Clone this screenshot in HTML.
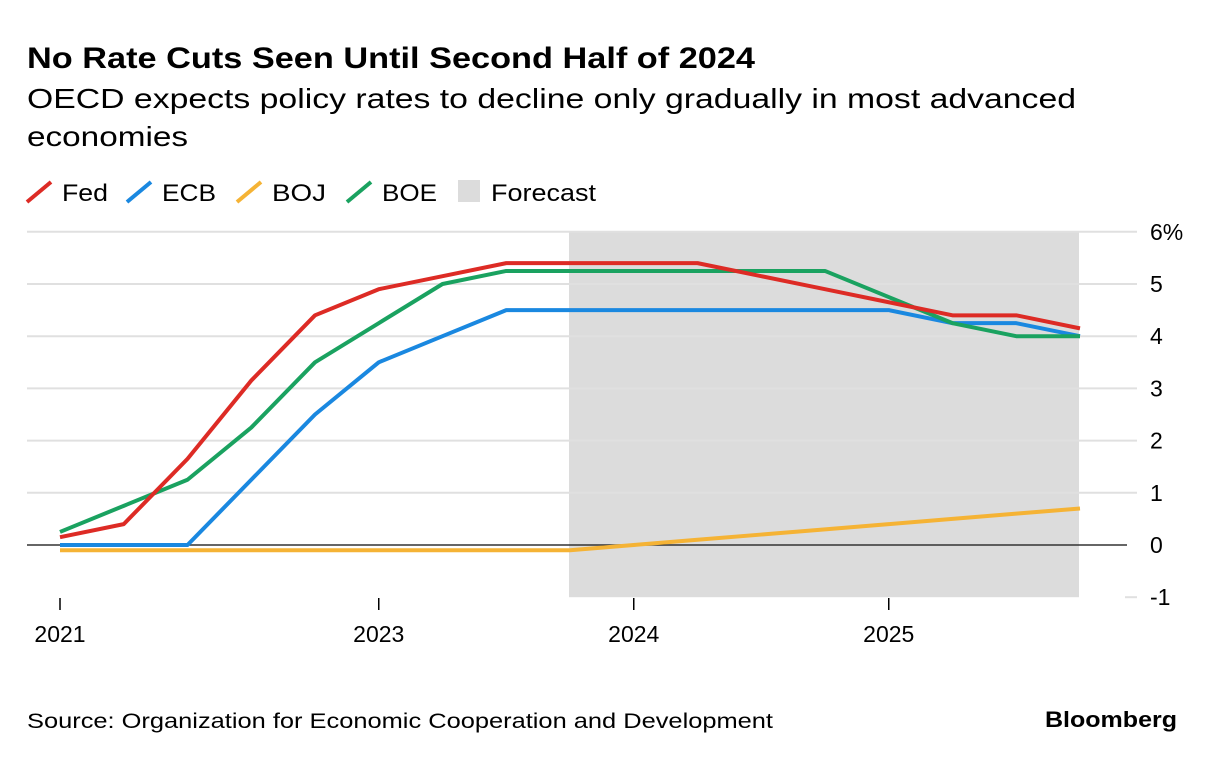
<!DOCTYPE html>
<html><head><meta charset="utf-8"><style>
body{margin:0;background:#fff;font-family:"Liberation Sans",sans-serif;}
</style></head><body>
<svg width="1213" height="760" xmlns="http://www.w3.org/2000/svg" font-family="Liberation Sans, sans-serif">
<text x="27" y="68" font-size="30" font-weight="bold" fill="#000" textLength="728" lengthAdjust="spacingAndGlyphs">No Rate Cuts Seen Until Second Half of 2024</text>
<text x="27" y="108" font-size="28" fill="#000" textLength="1049" lengthAdjust="spacingAndGlyphs">OECD expects policy rates to decline only gradually in most advanced</text>
<text x="27" y="146" font-size="28" fill="#000" textLength="161" lengthAdjust="spacingAndGlyphs">economies</text>
<g id="legend"></g>
<g id="plot"></g>
<text x="27" y="728" font-size="21" fill="#000" textLength="746" lengthAdjust="spacingAndGlyphs">Source: Organization for Economic Cooperation and Development</text>
<text x="1045" y="727" font-size="22" font-weight="bold" fill="#000" textLength="132" lengthAdjust="spacingAndGlyphs">Bloomberg</text>
</svg>
<script>
const fed=[0.15,0.4,1.65,3.15,4.4,4.9,5.15,5.4,5.4,5.4,5.4,5.15,4.9,4.65,4.4,4.4,4.15];
const ecb=[0,0,0,1.25,2.5,3.5,4.0,4.5,4.5,4.5,4.5,4.5,4.5,4.5,4.25,4.25,4.0];
const boj=[-0.1,-0.1,-0.1,-0.1,-0.1,-0.1,-0.1,-0.1,-0.1,0,0.1,0.2,0.3,0.4,0.5,0.6,0.7];
const boe=[0.25,0.75,1.25,2.25,3.5,4.25,5.0,5.25,5.25,5.25,5.25,5.25,5.25,4.75,4.25,4.0,4.0];
const yTicks=[-1,0,1,2,3,4,5,6];
const xTickIdx=[0,5,9,13];
const xTickLabels=["2021","2023","2024","2025"];
const forecastStart=8, forecastEnd=16;
const NS="http://www.w3.org/2000/svg";
const x=i=>60+i*63.75;
const y=v=>545-v*52.2;
const plot=document.getElementById('plot');
function mk(tag,attrs,parent){const e=document.createElementNS(NS,tag);for(const k in attrs)e.setAttribute(k,attrs[k]);(parent||plot).appendChild(e);return e;}
let r=mk('rect',{x:x(forecastStart)-1,y:y(6),width:x(forecastEnd)-x(forecastStart),height:y(-1)-y(6),fill:'#dcdcdc'});


yTicks.forEach(v=>{
  if(v!==0){let g=mk('line',{x1:v===-1?1125:27,x2:1137,y1:y(v),y2:y(v),stroke:'#e0e0e0','stroke-width':2});
  
  }
  let t=mk('text',{x:1150,y:y(v)+8,'font-size':23,fill:'#000'});
  t.textContent=v===6?'6%':String(v);
  
  
});
xTickIdx.forEach((i,k)=>{
  let l=mk('line',{x1:x(i),x2:x(i),y1:598,y2:610,stroke:'#000','stroke-width':1.5});
  
  
  let t=mk('text',{x:x(i),y:642,'font-size':23,'text-anchor':'middle',fill:'#000'});
  t.textContent=xTickLabels[k];
  
  
});
const series=[['boj',boj,'#f5b335'],['ecb',ecb,'#1a88e0'],['boe',boe,'#1aa260'],['fed',fed,'#dd2b25']];
let z=mk('line',{x1:27,x2:1127,y1:y(0),y2:y(0),stroke:'#333','stroke-width':1.5});


series.forEach(([n,d,c])=>{
  let p=mk('polyline',{points:d.map((v,i)=>x(i)+','+y(v)).join(' '),fill:'none',stroke:c,'stroke-width':4,'stroke-linejoin':'round'});
  
  
});
const leg=document.getElementById('legend');
const items=[['Fed','#dd2b25',27,46],['ECB','#1a88e0',127,54],['BOJ','#f5b335',237,54],['BOE','#1aa260',347,55]];
items.forEach(([n,c,lx,w])=>{
  mk('line',{x1:lx,y1:202,x2:lx+24,y2:182,stroke:c,'stroke-width':4},leg);
  let t=mk('text',{x:lx+35,y:201,'font-size':24,fill:'#000',textLength:w,lengthAdjust:'spacingAndGlyphs'},leg);
  t.textContent=n;
  
  
});
mk('rect',{x:458,y:180,width:22,height:22,fill:'#dcdcdc'},leg);
let ft=mk('text',{x:491,y:201,'font-size':24,fill:'#000',textLength:105,lengthAdjust:'spacingAndGlyphs'},leg);
ft.textContent='Forecast';


</script>
</body></html>
